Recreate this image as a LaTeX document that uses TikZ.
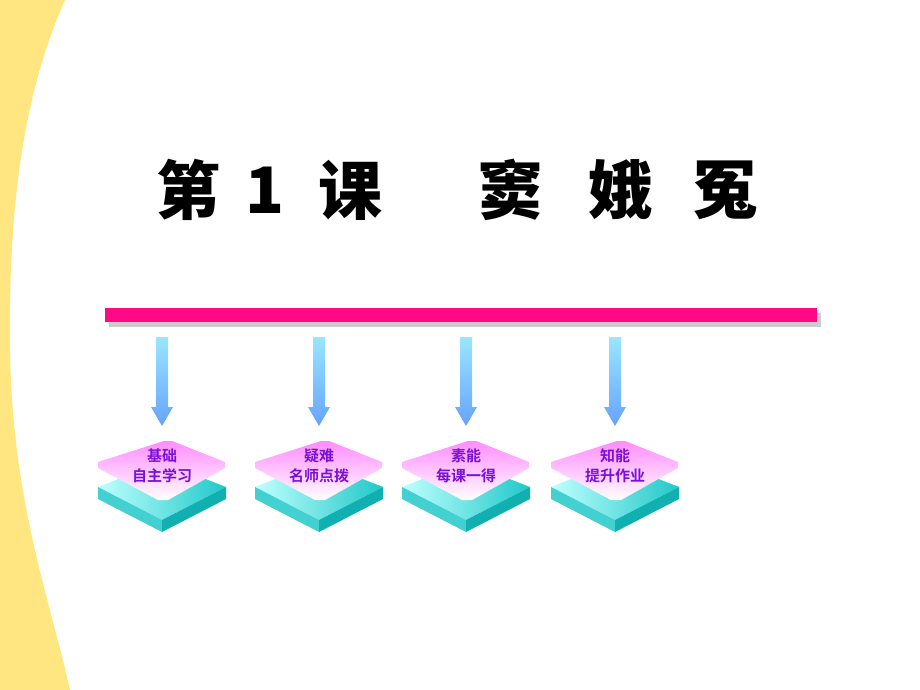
\documentclass[tikz,border=0pt]{standalone}
\usepackage{fontspec}
\newfontfamily\cjk{Noto Sans CJK SC Bold}
\newfontfamily\cjkb{Noto Sans CJK SC Black}
\usetikzlibrary{positioning,shadings}
\definecolor{barpink}{HTML}{FF0A84}
\definecolor{labelpurple}{HTML}{7A10D8}
\definecolor{sandy}{HTML}{FFE680}
\definecolor{slabside}{HTML}{20C8C8}
\definecolor{slabdark}{HTML}{10B0B0}
\tikzset{
  step arrow/.style={top color=blue!25!cyan!40, bottom color=blue!60!cyan!60, draw=none},
  label text/.style={font=\cjk\fontsize{15}{20}\selectfont, text=labelpurple, align=center, inner sep=0pt},
  title char/.style={font=\cjkb\fontsize{64}{70}\selectfont, inner sep=0pt},
}
\newcommand\slab[3]{% x, name, text
  \begin{scope}[shift={(#1,0)}]
    \shade[left color=cyan!25, right color=slabside] (-64,487) -- (0,462) -- (64,487) -- (0,520) -- cycle;
    \fill[slabside!85] (-64,487) -- (0,520) -- (0,532) -- (-64,499) -- cycle;
    \fill[slabdark] (64,487) -- (0,520) -- (0,532) -- (64,499) -- cycle;
    \shade[top color=magenta!45, bottom color=white] (-64,462) -- (2,441) -- (10,441) -- (63,462) -- (63,468) -- (6,500) -- (-4,500) -- (-64,468) -- cycle;
    \node[label text] (#2) at (0,466) {#3};
  \end{scope}}
\begin{document}
\begin{tikzpicture}[x=1pt,y=-1pt]
\useasboundingbox (0,0) rectangle (920,690);
\fill[white] (0,0) rectangle (920,690);
% background band
\fill[sandy] (0,0) -- (65,0) .. controls (25,90) and (8,200) .. (10,350)
  .. controls (12,500) and (50,600) .. (70,690) -- (0,690) -- cycle;
% title
\foreach \x/\c in {188/第,265/1,350/课,510/窦,620/娥,725/冤}
  \node[title char] at (\x,190) {\c};
% bar
\fill[gray!40] (109,313) rectangle (821,327);
\fill[barpink] (105,308) coordinate (barL) rectangle (817,322) coordinate (barR);
% arrows and slabs
\foreach \x/\n/\t in {162/basic/{基础\\自主学习},319/hard/{疑难\\名师点拨},466/gain/{素能\\每课一得},615/know/{知能\\提升作业}}{
  \shade[step arrow] (\x-6,337) -- (\x+6,337) -- (\x+6,407) -- (\x+11,407) -- (\x,426) -- (\x-11,407) -- (\x-6,407) -- cycle;
  \slab{\x}{\n}{\t}
}
\end{tikzpicture}
\end{document}
